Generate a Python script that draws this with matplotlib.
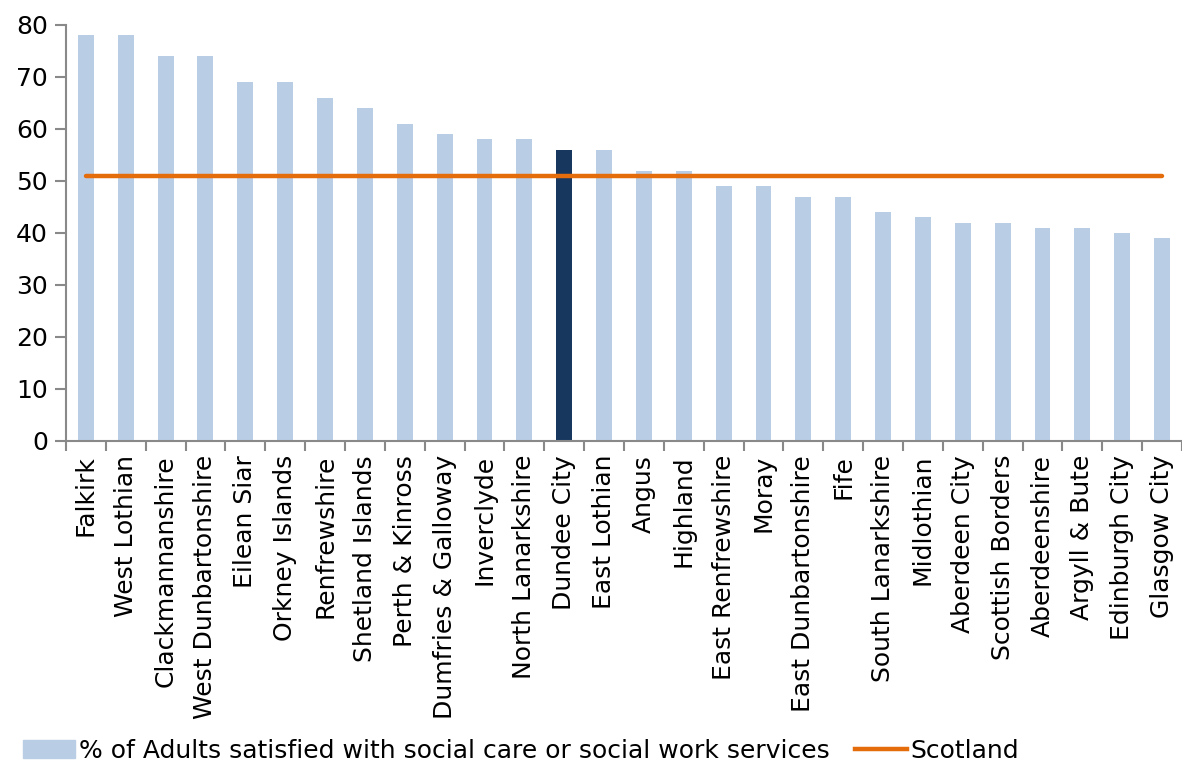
import numpy as np
import matplotlib; matplotlib.use("Agg")
import matplotlib.pyplot as plt
from matplotlib.patches import Patch
from matplotlib.lines import Line2D
plt.rcParams.update({"font.family": "DejaVu Sans", "font.size": 14})

LIGHT = "#B9CDE5"; DARK = "#17375E"; ORANGE = "#E46C0A"; GREY = "#898989"

councils = ["Falkirk", "West Lothian", "Clackmannanshire", "West Dunbartonshire", "Eilean Siar",
            "Orkney Islands", "Renfrewshire", "Shetland Islands", "Perth & Kinross",
            "Dumfries & Galloway", "Inverclyde", "North Lanarkshire", "Dundee City", "East Lothian",
            "Angus", "Highland", "East Renfrewshire", "Moray", "East Dunbartonshire", "Fife",
            "South Lanarkshire", "Midlothian", "Aberdeen City", "Scottish Borders", "Aberdeenshire",
            "Argyll & Bute", "Edinburgh City", "Glasgow City"]
satisfied = [78, 78, 74, 74, 69, 69, 66, 64, 61, 59, 58, 58, 56, 56, 52, 52, 49, 49, 47, 47,
             44, 43, 42, 42, 41, 41, 40, 39]
scotland = 51
highlight = "Dundee City"

fig = plt.figure(figsize=(11.82, 7.66), dpi=100)
ax = fig.add_axes([0.0558, 0.4243, 0.9442, 0.5431])

x = np.arange(len(councils))
cols = [DARK if c == highlight else LIGHT for c in councils]
ax.bar(x, satisfied, width=0.4, color=cols, zorder=2)
ax.plot([x[0], x[-1]], [scotland, scotland], color=ORANGE, lw=3.2, solid_capstyle="round", zorder=3)

ax.set_xlim(-0.5, len(councils) - 0.5)
ax.set_ylim(0, 80)
ax.set_yticks(range(0, 81, 10))
ax.set_xticks(x)
ax.set_xticklabels(councils, rotation=90, fontsize=18)
ax.set_xticks(np.arange(-0.5, len(councils), 1), minor=True)
ax.tick_params(axis="x", which="major", length=0, pad=10)
ax.tick_params(axis="x", which="minor", length=7, color=GREY, width=1.5)
ax.tick_params(axis="y", length=8, color=GREY, width=1.5, labelsize=18, pad=5)
for s in ["top", "right"]:
    ax.spines[s].set_visible(False)
for s in ["left", "bottom"]:
    ax.spines[s].set_color(GREY); ax.spines[s].set_linewidth(1.5)

handles = [Patch(color=LIGHT), Line2D([0], [0], color=ORANGE, lw=3.2)]
fig.legend(handles, ["% of Adults satisfied with social care or social work services", "Scotland"],
           loc="lower left", bbox_to_anchor=(0.0, -0.025), ncol=2, frameon=False, fontsize=18,
           handlelength=2.1, handletextpad=0.15, columnspacing=1.0)

fig.savefig("out.png", dpi=100)
